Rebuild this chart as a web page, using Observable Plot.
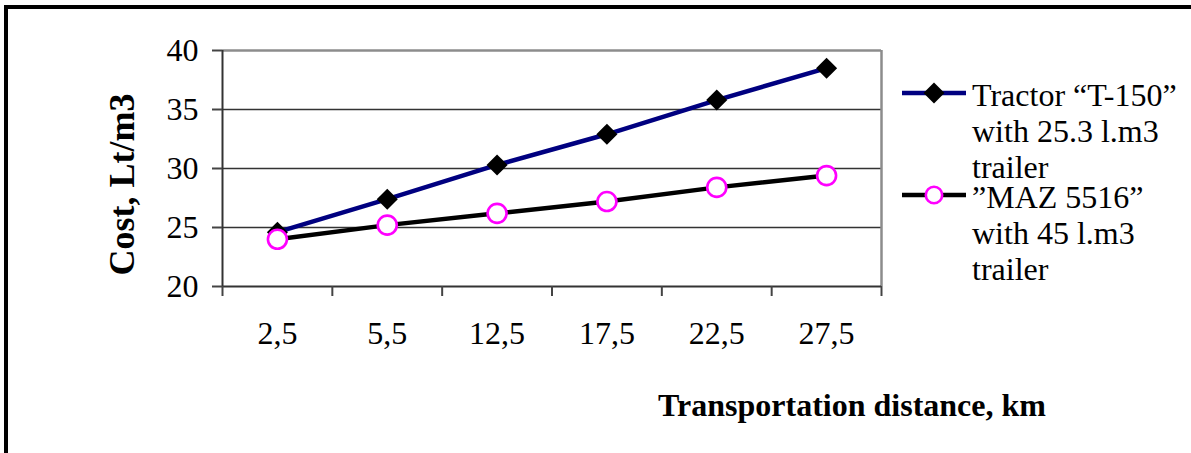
<!DOCTYPE html>
<html>
<head>
<meta charset="utf-8">
<script src="https://cdn.jsdelivr.net/npm/d3@7"></script>
<script src="https://cdn.jsdelivr.net/npm/@observablehq/plot@0.6"></script>
<style>
  html, body { margin: 0; padding: 0; background: #fff; }
  #wrap { position: relative; width: 1191px; height: 453px; overflow: hidden; }
  #wrap svg g[aria-label$="tick label"] { font-size: 32px; font-family: "Liberation Serif", "Times New Roman", serif; }
  #frame { position: absolute; left: 4px; top: 5px; width: 1200px; height: 460px; border-top: 4px solid #000; border-left: 4px solid #000; pointer-events: none; }
  .item { position: absolute; left: 902px; display: flex; align-items: flex-start; }
  .item svg { flex: none; }
  .item .txt { font-family: "Liberation Serif", "Times New Roman", serif; font-size: 32px; line-height: 36px; color: #000; white-space: pre; margin-left: 6px; }
</style>
</head>
<body>
<div id="wrap"></div>
<script>
// Transportation distance categories (km) and fuel cost per m3 for each vehicle
const distances = ["2,5", "5,5", "12,5", "17,5", "22,5", "27,5"];
const tractorCost = [24.6, 27.4, 30.3, 32.9, 35.8, 38.5];
const mazCost = [24.0, 25.2, 26.2, 27.2, 28.4, 29.4];
const yTicks = [20, 25, 30, 35, 40];
const gridValues = [25, 30, 35];
const seriesNames = ["Tractor \u201CT-150\u201D\nwith 25.3 l.m3\ntrailer", "\u201DMAZ 5516\u201D\nwith 45 l.m3\ntrailer"];
const yTitle = "Cost, Lt/m3";
const xTitle = "Transportation distance, km";

const serif = "Liberation Serif, Times New Roman, serif";

// Each category occupies one unit band; points sit at the band centres
const rows = distances.map((d, i) => ({d, pos: i + 0.5, tractor: tractorCost[i], maz: mazCost[i]}));
const bandEdges = d3.range(distances.length + 1);
const xMax = distances.length;

const chart = Plot.plot({
  width: 1191,
  height: 453,
  marginLeft: 222,
  marginRight: 310,
  marginTop: 50,
  marginBottom: 167,
  style: {fontFamily: serif, fontSize: "32px", color: "#000", background: "#fff"},
  x: {type: "linear", domain: [0, xMax]},
  y: {domain: [20, 40]},
  marks: [
    Plot.ruleY(gridValues, {stroke: "#333", strokeWidth: 1.3}),
    Plot.ruleY([40], {stroke: "#8c8c8c", strokeWidth: 2.5}),
    Plot.ruleX([xMax], {stroke: "#8c8c8c", strokeWidth: 2.5}),
    Plot.ruleX([0], {stroke: "#333", strokeWidth: 2}),
    Plot.ruleY([20], {stroke: "#333", strokeWidth: 2}),
    Plot.axisY({ticks: yTicks, tickSize: 10, tickPadding: 14, stroke: "#444", strokeWidth: 2, label: null}),
    Plot.axisX({ticks: bandEdges, tickSize: 10, tickFormat: () => "", stroke: "#444", strokeWidth: 2, label: null}),
    Plot.axisX({ticks: rows.map(r => r.pos), tickSize: 0, tickPadding: 35, tickFormat: v => distances[Math.floor(v)], label: null}),
    Plot.line(rows, {x: "pos", y: "tractor", stroke: "#000080", strokeWidth: 4.5}),
    Plot.line(rows, {x: "pos", y: "maz", stroke: "#000", strokeWidth: 4.5}),
    Plot.dot(rows, {x: "pos", y: "tractor", symbol: "diamond2", r: 9.5, fill: "#000", stroke: "none"}),
    Plot.dot(rows, {x: "pos", y: "maz", symbol: "circle", r: 9.5, fill: "#fff", stroke: "#ff00ff", strokeWidth: 2.6}),
    Plot.text([yTitle], {frameAnchor: "left", text: d => d, rotate: -90, textAnchor: "middle", lineAnchor: "middle", dx: -100, dy: 16, fontSize: 36, fontWeight: "bold", fontFamily: serif}),
    Plot.text([xTitle], {frameAnchor: "bottom", text: d => d, textAnchor: "middle", lineAnchor: "middle", dx: 300, dy: 119, fontSize: 32, fontWeight: "bold", fontFamily: serif})
  ]
});

const wrap = document.getElementById("wrap");
wrap.appendChild(chart);

// Legend: one swatch plus a three-line label per series
const swatches = [
  `<svg width="64" height="24" viewBox="0 0 64 24"><line x1="0" y1="12" x2="64" y2="12" stroke="#000080" stroke-width="4.5"/><polygon points="32,1.5 42.5,12 32,22.5 21.5,12" fill="#000"/></svg>`,
  `<svg width="64" height="24" viewBox="0 0 64 24"><line x1="0" y1="12" x2="64" y2="12" stroke="#000" stroke-width="4.5"/><circle cx="32" cy="12" r="8.2" fill="#fff" stroke="#ff00ff" stroke-width="2.6"/></svg>`
];
const itemTops = [77, 179];
seriesNames.forEach((name, i) => {
  const item = document.createElement("div");
  item.className = "item";
  item.style.top = itemTops[i] + "px";
  item.innerHTML = `<div style="margin-top:4px">${swatches[i]}</div><div class="txt"></div>`;
  item.querySelector(".txt").textContent = name;
  wrap.appendChild(item);
});

const frame = document.createElement("div");
frame.id = "frame";
wrap.appendChild(frame);
</script>
</body>
</html>
